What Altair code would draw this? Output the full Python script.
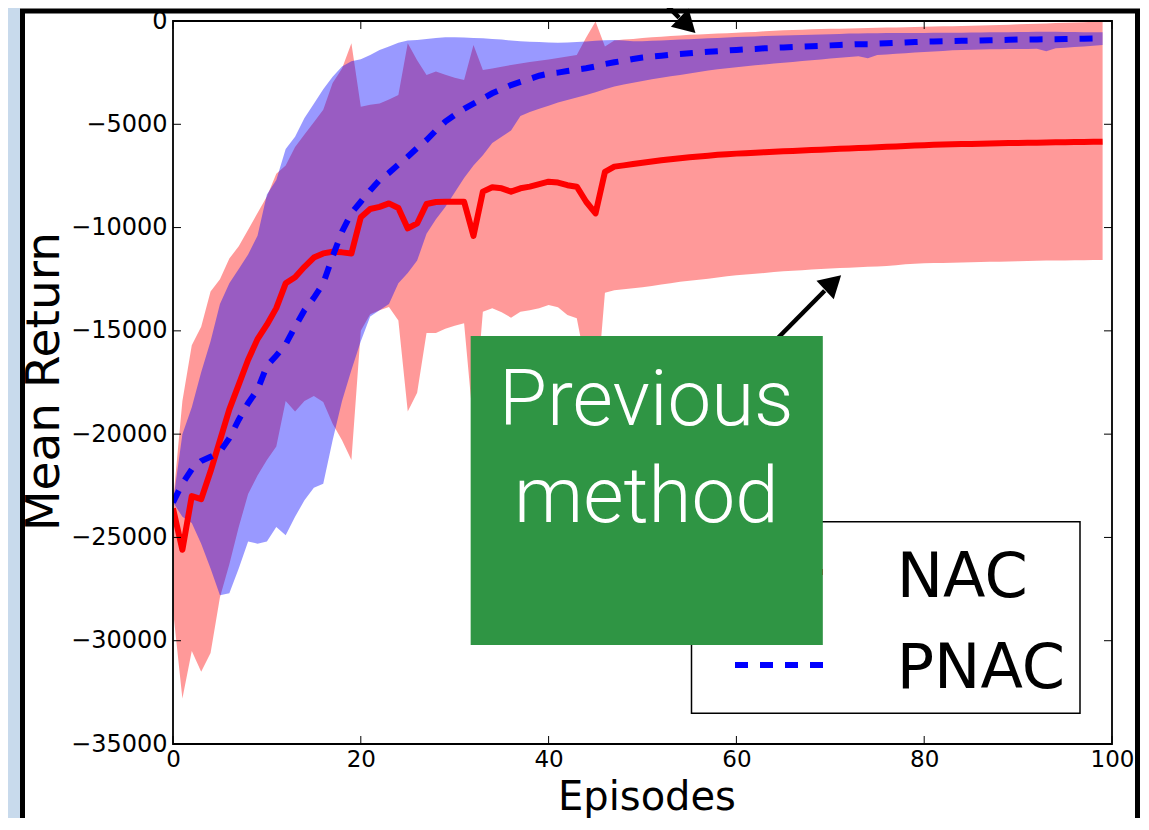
import altair as alt
import pandas as pd

episodes = list(range(100))

nac_mean = [-23600,-25600,-23000,-23150,-21800,-20300,-18800,-17600,-16400,-15400,
            -14700,-13900,-12700,-12400,-11900,-11450,-11250,-11170,-11200,-11250,
            -9500,-9100,-9000,-8830,-9050,-10040,-9800,-8860,-8760,-8750,
            -8750,-8750,-10400,-8260,-8050,-8100,-8260,-8100,-8020,-7900,
            -7780,-7820,-7950,-8020,-8750,-9310,-7300,-7050,-6990,-6920,
            -6860,-6800,-6740,-6690,-6640,-6600,-6560,-6520,-6480,-6450,
            -6420,-6400,-6380,-6350,-6330,-6310,-6290,-6270,-6250,-6230,
            -6210,-6190,-6170,-6150,-6130,-6110,-6090,-6070,-6050,-6030,
            -6010,-5995,-5980,-5970,-5960,-5950,-5940,-5930,-5920,-5910,
            -5900,-5895,-5890,-5880,-5870,-5865,-5860,-5855,-5850,-5840]

nac_upper = [-23300,-18400,-15700,-14800,-13100,-12500,-11500,-10900,-10100,-9300,
             -8500,-7400,-7000,-6100,-5500,-4900,-4300,-3000,-2300,-1080,
             -4150,-4050,-3990,-3800,-3580,-1080,-1900,-2610,-2450,-2600,
             -2750,-2860,-1160,-2370,-2300,-2220,-2130,-2060,-1990,-1920,
             -1860,-1790,-1720,-1650,-800,-30,-1240,-950,-900,-870,
             -820,-790,-760,-730,-700,-670,-650,-630,-610,-590,
             -570,-550,-530,-500,-470,-450,-430,-420,-400,-390,
             -380,-370,-360,-350,-340,-330,-320,-310,-300,-290,
             -280,-270,-260,-250,-240,-230,-220,-200,-190,-180,
             -160,-150,-130,-120,-100,-90,-70,-60,-40,-30]

nac_lower = [-28500,-32800,-30500,-31500,-30600,-27900,-26300,-24500,-22900,-22000,
             -21250,-20600,-18400,-18900,-18400,-18150,-18450,-19500,-20300,-21250,
             -15000,-14200,-14000,-13850,-14500,-18900,-18000,-15100,-15100,-14900,
             -14750,-14630,-19600,-14070,-13900,-14100,-14360,-14070,-14000,-13910,
             -13750,-13860,-14230,-14390,-16700,-18600,-13150,-13030,-12980,-12940,
             -12890,-12830,-12760,-12690,-12620,-12580,-12530,-12480,-12420,-12360,
             -12310,-12270,-12230,-12200,-12150,-12120,-12090,-12060,-12030,-12000,
             -11980,-11960,-11940,-11920,-11900,-11890,-11860,-11820,-11780,-11750,
             -11730,-11720,-11710,-11700,-11690,-11680,-11670,-11660,-11650,-11640,
             -11630,-11620,-11610,-11600,-11595,-11590,-11585,-11580,-11575,-11570]

pnac_mean = [-23300,-22400,-21700,-21300,-21100,-20850,-20200,-19300,-18500,-17850,
             -16700,-16200,-15650,-14800,-14000,-13400,-12700,-11400,-10200,-9300,
             -8750,-8200,-7700,-7350,-6950,-6570,-6150,-5760,-5300,-4870,
             -4550,-4250,-4000,-3750,-3500,-3300,-3100,-2950,-2800,-2650,
             -2550,-2500,-2420,-2350,-2290,-2200,-2080,-2000,-1920,-1840,
             -1770,-1720,-1680,-1630,-1600,-1560,-1520,-1490,-1460,-1430,
             -1400,-1370,-1350,-1320,-1300,-1280,-1260,-1240,-1220,-1200,
             -1180,-1160,-1140,-1120,-1120,-1100,-1080,-1060,-1040,-1020,
             -1000,-990,-980,-970,-960,-950,-940,-930,-920,-910,
             -900,-895,-890,-885,-880,-870,-860,-855,-845,-840]

pnac_upper = [-23300,-20000,-18700,-17000,-15500,-13700,-12700,-12000,-11300,-10400,
              -8400,-7700,-6200,-5600,-4700,-4000,-3300,-2700,-2200,-1950,
              -1850,-1650,-1400,-1240,-1050,-950,-920,-870,-820,-790,
              -790,-800,-820,-840,-870,-900,-950,-980,-1000,-1020,
              -1040,-1050,-1040,-1020,-990,-960,-930,-920,-950,-980,
              -980,-960,-940,-920,-900,-880,-860,-840,-820,-800,
              -780,-760,-745,-730,-715,-700,-690,-680,-670,-655,
              -640,-625,-610,-600,-595,-590,-585,-580,-580,-575,
              -575,-570,-570,-570,-565,-560,-555,-550,-545,-540,
              -535,-530,-525,-520,-525,-530,-535,-540,-545,-550]

pnac_lower = [-23300,-24000,-24300,-25300,-26500,-27800,-27700,-26500,-25200,-25300,
              -25200,-24500,-24900,-24000,-23200,-22600,-22400,-20300,-18400,-16900,
              -15500,-14300,-14000,-13700,-12700,-12200,-11600,-10300,-9600,-9000,
              -8300,-7600,-7000,-6500,-5900,-5600,-5300,-4600,-4400,-4250,
              -4100,-3950,-3820,-3700,-3580,-3450,-3300,-3170,-3080,-2990,
              -2900,-2820,-2750,-2680,-2610,-2540,-2470,-2400,-2340,-2290,
              -2240,-2190,-2140,-2100,-2060,-2020,-1980,-1940,-1900,-1860,
              -1820,-1780,-1740,-1710,-1800,-1650,-1620,-1590,-1560,-1530,
              -1500,-1480,-1450,-1420,-1400,-1390,-1380,-1370,-1365,-1360,
              -1355,-1350,-1345,-1460,-1320,-1290,-1260,-1230,-1200,-1160]

x_ticks = [0, 20, 40, 60, 80, 100]
y_ticks = [0, -5000, -10000, -15000, -20000, -25000, -30000, -35000]
series_names = ["NAC", "PNAC"]
callout_lines = ["Previous", "method"]

# annotation anchors (in data units)
arrow_x0 = [50.2, 64.1]
arrow_y0 = [1840, -15490]
arrow_x1 = [53.9, 69.4]
arrow_y1 = [160, -13060]
head_x = [54.8, 70.3]
head_y = [-208, -12665]
head_angle = [134, 47]
box_x = [31.7, 69.2]
box_y = [-15250, -30210]
callout_x = [50.4, 50.4]
callout_y = [-19560, -24240]

W, H = 939, 723

df = pd.DataFrame({
    "ep": episodes, "rm": nac_mean, "ru": nac_upper, "rl": nac_lower,
    "bm": pnac_mean, "bu": pnac_upper, "bl": pnac_lower,
})

xs = alt.Scale(domain=[0, 100], nice=False, zero=False)
ys = alt.Scale(domain=[-35000, 0], nice=False, zero=False)

common = dict(labelFont="DejaVu Sans", labelColor="black",
              titleFont="DejaVu Sans", titleFontWeight="normal", titleColor="black",
              ticks=False, domain=False, grid=False, format="d", labelOverlap=False)
ax_x = alt.Axis(values=x_ticks, title="Episodes", labelFlush=False, labelPadding=4, labelFontSize=23,
                titleFontSize=40, titleX=473.5, titleY=65, titleAlign="center",
                titleBaseline="alphabetic", **common)
ax_y = alt.Axis(values=y_ticks, title="Mean Return", labelPadding=6, labelFontSize=24, titleAngle=270,
                titleFontSize=47, titleX=-115, titleY=360, titleAlign="center",
                titleBaseline="alphabetic", **common)


def X(field):
    return alt.X(field, scale=xs, axis=ax_x)


def Y(field):
    return alt.Y(field, scale=ys, axis=ax_y)


one = pd.DataFrame({"k": [0]})

# slide decoration: blue strip on the left and thick black frame
slide_strip = alt.Chart(one).mark_rect(fill="#c8daec").encode(
    x=alt.value(-170), x2=alt.value(-153), y=alt.value(-20), y2=alt.value(830))
slide_frame = alt.Chart(one).mark_rect(fill=None, stroke="black", strokeWidth=5).encode(
    x=alt.value(-150.5), x2=alt.value(964.5), y=alt.value(-10), y2=alt.value(840))

red_band = alt.Chart(df).mark_area(color="#ff0000", opacity=0.4, orient="vertical", clip=True).encode(
    x=X("ep:Q"), y=Y("rl:Q"), y2="ru:Q")
blue_band = alt.Chart(df).mark_area(color="#0000ff", opacity=0.4, orient="vertical", clip=True).encode(
    x=X("ep:Q"), y=Y("bl:Q"), y2="bu:Q")
red_line = alt.Chart(df).mark_line(color="#ff0000", strokeWidth=6, strokeJoin="round", clip=True).encode(
    x=X("ep:Q"), y=Y("rm:Q"))
blue_line = alt.Chart(df).mark_line(color="#0000ff", strokeWidth=6, strokeDash=[13, 12],
                                    strokeCap="butt", clip=True).encode(
    x=X("ep:Q"), y=Y("bm:Q"))

spines = alt.Chart(one).mark_rect(fill=None, stroke="black", strokeWidth=1.8).encode(
    x=alt.value(0), x2=alt.value(W), y=alt.value(0), y2=alt.value(H))

xt = pd.DataFrame({"v": x_ticks})
yt = pd.DataFrame({"v": y_ticks})
tick_style = dict(color="black", strokeWidth=1)
tb = alt.Chart(xt).mark_rule(**tick_style).encode(x=X("v:Q"), y=alt.value(H), y2=alt.value(H - 8))
tt = alt.Chart(xt).mark_rule(**tick_style).encode(x=X("v:Q"), y=alt.value(0), y2=alt.value(8))
tl = alt.Chart(yt).mark_rule(**tick_style).encode(y=Y("v:Q"), x=alt.value(0), x2=alt.value(8))
tr = alt.Chart(yt).mark_rule(**tick_style).encode(y=Y("v:Q"), x=alt.value(W), x2=alt.value(W - 8))

# legend (manual, so the callout box can sit above it)
leg_box = alt.Chart(one).mark_rect(fill="white", stroke="black", strokeWidth=1.5).encode(
    x=alt.value(518.5), x2=alt.value(907), y=alt.value(500.7), y2=alt.value(692.3))
leg_red = alt.Chart(one).mark_rule(color="#ff0000", strokeWidth=6).encode(
    x=alt.value(562), x2=alt.value(650), y=alt.value(551))
leg_blue = alt.Chart(one).mark_rule(color="#0000ff", strokeWidth=6, strokeDash=[13, 12]).encode(
    x=alt.value(562), x2=alt.value(650), y=alt.value(644))
leg_t1 = alt.Chart(one).mark_text(text=series_names[0], font="DejaVu Sans", fontSize=62, align="left",
                                  baseline="alphabetic", color="black").encode(
    x=alt.value(723.7), y=alt.value(575.7))
leg_t2 = alt.Chart(one).mark_text(text=series_names[1], font="DejaVu Sans", fontSize=62, align="left",
                                  baseline="alphabetic", color="black").encode(
    x=alt.value(723.7), y=alt.value(667.3))

arrows_df = pd.DataFrame({"x0": arrow_x0, "y0": arrow_y0, "x1": arrow_x1, "y1": arrow_y1})
heads_df = pd.DataFrame({"x": head_x, "y": head_y, "a": head_angle})
shafts = alt.Chart(arrows_df).mark_rule(color="black", strokeWidth=4.5).encode(
    x=X("x0:Q"), y=Y("y0:Q"), x2="x1:Q", y2="y1:Q")
heads = alt.Chart(heads_df).mark_point(shape="triangle-up", filled=True, size=640, color="black",
                                       opacity=1).encode(
    x=X("x:Q"), y=Y("y:Q"), angle=alt.Angle("a:Q", scale=None))

box_df = pd.DataFrame({"x0": [box_x[0]], "x1": [box_x[1]], "y0": [box_y[0]], "y1": [box_y[1]]})
box_shadow = alt.Chart(box_df).mark_rect(color="black", opacity=0.13, xOffset=3, yOffset=4).encode(
    x=X("x0:Q"), x2="x1:Q", y=Y("y0:Q"), y2="y1:Q")
box = alt.Chart(box_df).mark_rect(color="#2f9544", opacity=1).encode(
    x=X("x0:Q"), x2="x1:Q", y=Y("y0:Q"), y2="y1:Q")
call_df = pd.DataFrame({"t": callout_lines, "x": callout_x, "y": callout_y})
call_text = alt.Chart(call_df).mark_text(font="Roboto", fontWeight=300, fontSize=78, color="white",
                                         align="center", baseline="alphabetic").encode(
    x=X("x:Q"), y=Y("y:Q"), text="t:N")

chart = alt.layer(
    slide_strip, slide_frame, red_band, blue_band, red_line, blue_line, spines,
    tb, tt, tl, tr, leg_box, leg_red, leg_blue, leg_t1, leg_t2, shafts, heads, box_shadow, box,
    call_text,
).properties(
    width=W, height=H,
    autosize=alt.AutoSizeParams(type="none"),
    padding={"left": 165, "top": 13, "right": 29, "bottom": 74},
    background="white",
).configure_view(stroke=None)

chart.save("out.html", embed_options={"renderer": "svg", "actions": False})
